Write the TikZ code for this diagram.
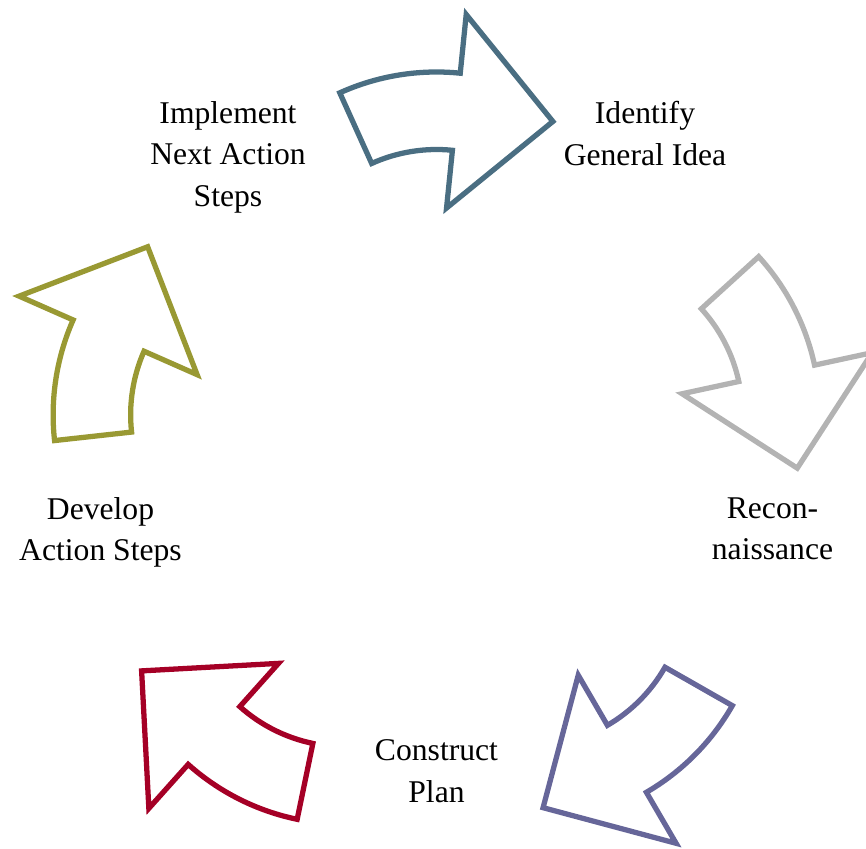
\documentclass[tikz,border=0pt]{standalone}
\usepackage{fontspec}
\setmainfont{Liberation Serif}
\usepackage{tikz}
\definecolor{arblue}{RGB}{74,110,130}
\definecolor{argray}{RGB}{179,179,179}
\definecolor{arpurple}{RGB}{102,102,153}
\definecolor{arred}{RGB}{165,0,38}
\definecolor{arolive}{RGB}{153,153,51}

\begin{document}
\begin{tikzpicture}[
  stage/.style={align=center, anchor=north, inner sep=0pt,
                font=\fontsize{18}{23.7}\selectfont},
  cyclearrow/.pic={
    \draw[line width=3pt, shift={(0,3.12)}]
      (114.3:4.70) arc[start angle=114.3, end angle=84.2, radius=4.70]
      -- (84.2:5.88) -- (57.9:4.38) -- (84.2:1.99) -- (84.2:3.15)
      arc[start angle=84.2, end angle=114.3, radius=3.15] -- cycle;
  }]
  \useasboundingbox (-8.73,-7.72) rectangle (8.59,9.26);

  % Stages
  \node[stage] (idea) at (4.17,7.24) {Identify\\General Idea};
  \node[stage] (recon) at (6.72,-0.68) {Recon-\\naissance};
  \node[stage] (plan) at (0,-5.53) {Construct\\Plan};
  \node[stage] (develop) at (-6.72,-0.68) {Develop\\Action Steps};
  \node[stage] (implement) at (-4.17,7.24) {Implement\\Next Action\\Steps};

  % Bent arrows between the stages, turned about the middle
  \pic[arblue] at (0,0) {cyclearrow};
  \pic[argray, rotate=-72] at (0,0) {cyclearrow};
  \pic[arpurple, rotate=-144] at (0,0) {cyclearrow};
  \pic[arred, rotate=-216] at (0,0) {cyclearrow};
  \pic[arolive, rotate=-288] at (0,0) {cyclearrow};
\end{tikzpicture}
\end{document}
